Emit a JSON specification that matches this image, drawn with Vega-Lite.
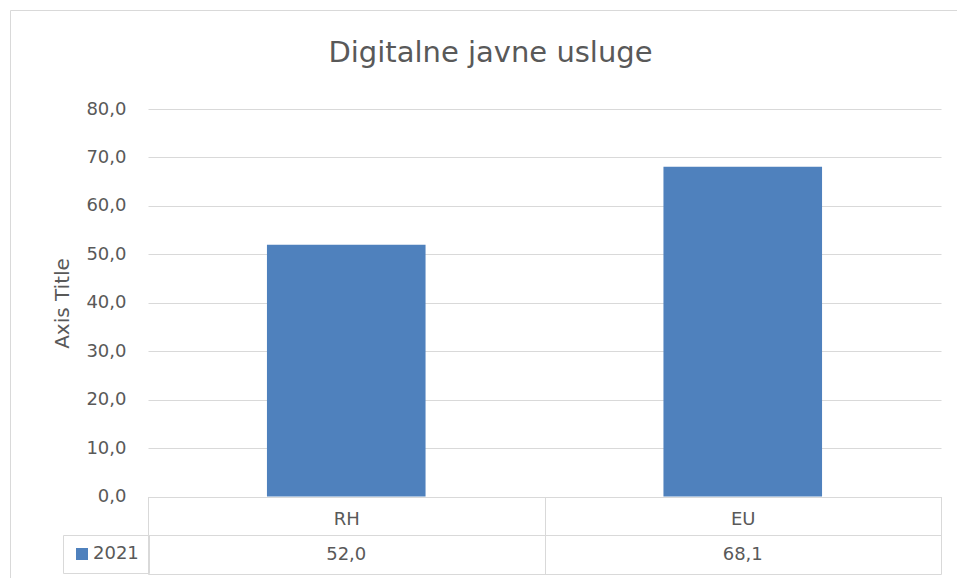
{
  "$schema": "https://vega.github.io/schema/vega-lite/v6.json",
  "width": 793,
  "height": 465,
  "autosize": {"type": "none"},
  "padding": {"left": 148, "top": 109, "right": 16, "bottom": 4},
  "background": "white",
  "config": {
    "locale": {"number": {"decimal": ",", "thousands": ".", "grouping": [3], "currency": ["", " €"]}},
    "view": {"stroke": null},
    "font": "DejaVu Sans"
  },
  "title": {
    "text": "Digitalne javne usluge",
    "anchor": "middle",
    "dx": -54,
    "fontSize": 29,
    "fontWeight": "normal",
    "color": "#595959",
    "font": "DejaVu Sans",
    "baseline": "alphabetic",
    "offset": -81
  },
  "data": {
    "values": [
      {"category": "RH", "series": "2021", "value": 52.0},
      {"category": "EU", "series": "2021", "value": 68.1}
    ]
  },
  "encoding": {
    "x": {
      "field": "category",
      "type": "nominal",
      "sort": ["RH", "EU"],
      "scale": {"paddingInner": 0, "paddingOuter": 0},
      "axis": {
        "title": null,
        "orient": "bottom",
        "domain": true,
        "domainColor": "#d9d9d9",
        "domainWidth": 1,
        "ticks": true,
        "tickBand": "extent",
        "tickSize": -77.5,
        "tickColor": "#d9d9d9",
        "tickWidth": 1,
        "labelAngle": 0,
        "labelPadding": 14,
        "labelFontSize": 18,
        "labelFont": "DejaVu Sans",
        "labelColor": "#595959",
        "labelBaseline": "top",
        "grid": false
      }
    }
  },
  "layer": [
    {
      "mark": {"type": "bar", "width": {"band": 0.4}},
      "encoding": {
        "y": {
          "field": "value",
          "type": "quantitative",
          "scale": {"domain": [-16, 80], "nice": false},
          "axis": {
            "title": "Axis Title",
            "values": [-8, 0, 10, 20, 30, 40, 50, 60, 70, 80],
            "format": ".1f",
            "labelExpr": "datum.value < 0 ? '' : datum.label",
            "labelOverlap": false,
            "grid": true,
            "gridColor": "#d9d9d9",
            "gridWidth": 1,
            "domain": false,
            "ticks": false,
            "labelPadding": 22,
            "labelFontSize": 18,
            "labelFont": "DejaVu Sans",
            "labelColor": "#595959",
            "titleFontSize": 20,
            "titleFont": "DejaVu Sans",
            "titleColor": "#595959",
            "titleFontWeight": "normal",
            "titleX": -86,
            "titleY": 194,
            "titleAngle": -90,
            "titleBaseline": "middle",
            "titleAlign": "center"
          }
        },
        "y2": {"datum": 0},
        "color": {
          "field": "series",
          "type": "nominal",
          "scale": {"range": ["#4f81bd"]},
          "legend": {
            "title": null,
            "orient": "none",
            "legendX": -85,
            "legendY": 426,
            "strokeColor": "#d9d9d9",
            "padding": 10,
            "symbolType": "square",
            "symbolSize": 144,
            "symbolOffset": 0,
            "symbolStrokeWidth": 0,
            "labelOffset": 2,
            "labelFontSize": 18,
            "labelFont": "DejaVu Sans",
            "labelColor": "#595959"
          }
        },
        "opacity": {
          "datum": "okvir grafikona",
          "type": "ordinal",
          "scale": {"range": [1]},
          "legend": {
            "title": null,
            "orient": "none",
            "legendX": -138,
            "legendY": -99,
            "strokeColor": "#d9d9d9",
            "padding": 490,
            "symbolSize": 0,
            "symbolOpacity": 0,
            "symbolFillColor": "transparent",
            "symbolStrokeColor": "transparent",
            "labelOpacity": 0
          }
        }
      }
    },
    {
      "mark": {"type": "text", "fontSize": 18, "font": "DejaVu Sans", "color": "#595959", "baseline": "middle"},
      "encoding": {
        "y": {"datum": -12},
        "text": {"field": "value", "type": "quantitative", "format": ".1f"}
      }
    }
  ]
}
